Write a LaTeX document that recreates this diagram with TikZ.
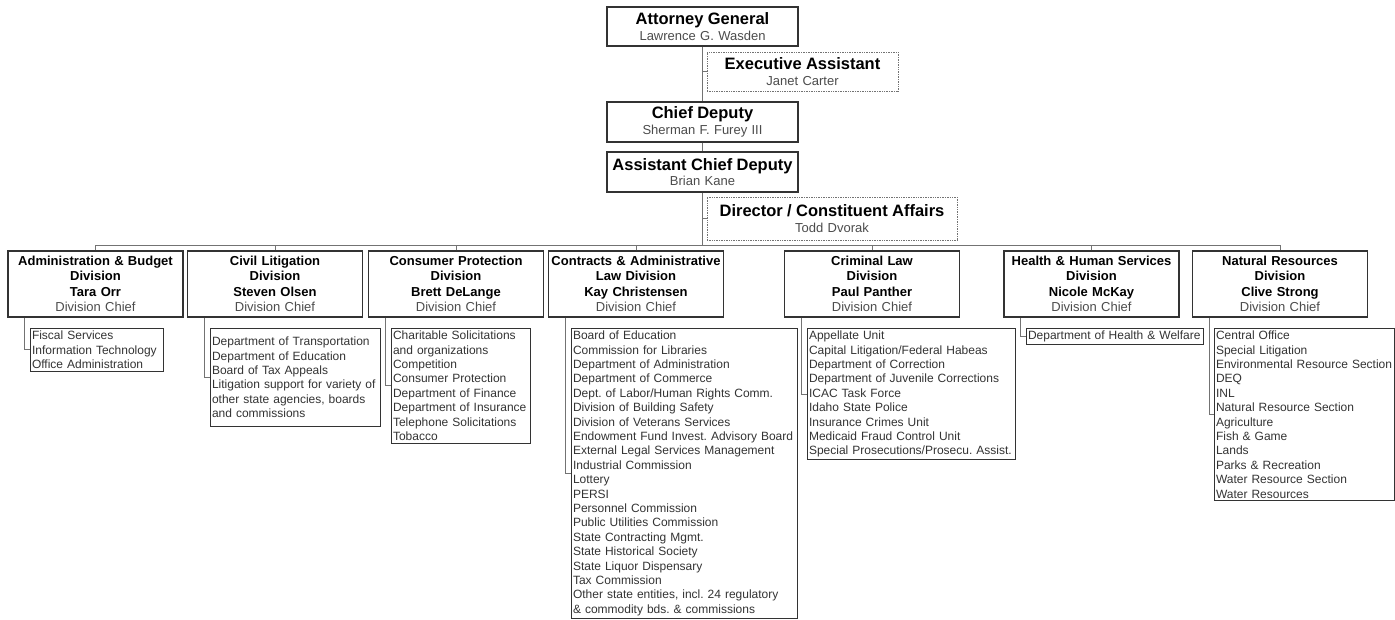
\documentclass[tikz,border=0pt]{standalone}
\usepackage{fontspec}
\setmainfont{Liberation Sans}
\usepackage{xcolor}
\usepackage{tikz}
\usetikzlibrary{calc}
\frenchspacing
\hyphenpenalty=10000
\exhyphenpenalty=10000
\tikzset{
    topbox/.style={rectangle, draw=black!80, line width=1.2pt, fill=white,
                 text width=187pt, align=center, inner xsep=2pt, inner ysep=0pt,
                 minimum height=39pt, font=\fontsize{13}{15.3}\selectfont},
    helpbox/.style={topbox, draw=black!55, line width=0.7pt, densely dotted},
    divbox/.style={rectangle, draw=black!80, line width=1.2pt, fill=white,
                 text width=171pt, align=center, inner xsep=2pt, inner ysep=0pt,
                 minimum height=66pt, font=\fontsize{13}{15.4}\selectfont\bfseries},
    listbox/.style={rectangle, draw=black!80, line width=1pt, anchor=north west,
                 align=left, inner xsep=1.5pt, inner ysep=2.5pt, text=black!80,
                 font=\fontsize{12}{14.4}\selectfont},
    link/.style={draw=black!55, line width=0.8pt}
}
\newcommand{\boxtitle}[1]{{\fontsize{16.5}{15.3}\selectfont\bfseries #1}}
\newcommand{\chieflabel}{{\mdseries\color{black!70}Division Chief}}

\begin{document}
\begin{tikzpicture}[x=1pt, y=-1pt]
\useasboundingbox (0,0) rectangle (1395,619);
% ── Front office ──────────────────────────────────────────────────────
\node[topbox] at (702.5, 26.5) (ag) {\boxtitle{Attorney General}\\{\color{black!70}Lawrence G. Wasden}};
\node[helpbox] at (802.5, 71.5) (ea) {\boxtitle{Executive Assistant}\\{\color{black!70}Janet Carter}};
\node[topbox, minimum height=40pt] at (702.5, 122) (cd) {\boxtitle{Chief Deputy}\\{\color{black!70}Sherman F. Furey III}};
\node[topbox, minimum height=40pt] at (702.5, 172) (acd) {\boxtitle{Assistant Chief Deputy}\\{\color{black!70}Brian Kane}};
\node[helpbox, text width=246pt, minimum height=43pt] at (832, 218.5) (dir) {\boxtitle{Director / Constituent Affairs}\\{\color{black!70}Todd Dvorak}};

\coordinate (bus) at (702.5, 245);

% ── Divisions ─────────────────────────────────────────────────────────
\node[divbox] at (95.5, 284)  (adm) {Administration \& Budget\\Division\\Tara Orr\\\chieflabel};
\node[divbox] at (275, 284)   (civ) {Civil Litigation\\Division\\Steven Olsen\\\chieflabel};
\node[divbox] at (456, 284)   (con) {Consumer Protection\\Division\\Brett DeLange\\\chieflabel};
\node[divbox] at (636, 284)   (cal) {Contracts \& Administrative\\Law Division\\Kay Christensen\\\chieflabel};
\node[divbox] at (872, 284)   (crim) {Criminal Law\\Division\\Paul Panther\\\chieflabel};
\node[divbox] at (1091.5, 284) (hhs) {Health \& Human Services\\Division\\Nicole McKay\\\chieflabel};
\node[divbox] at (1280, 284)  (nat) {Natural Resources\\Division\\Clive Strong\\\chieflabel};

% ── Section lists ─────────────────────────────────────────────────────
\node[listbox, text width=130pt] at (30, 328) (admL)
  {Fiscal Services\\Information Technology\\Office Administration};
\node[listbox, text width=167pt, minimum height=98pt] at (210, 328) (civL)
  {Department of Transportation\\Department of Education\\Board of Tax Appeals\\Litigation support for variety of\\other state agencies, boards\\and commissions};
\node[listbox, text width=136pt] at (391, 328) (conL)
  {Charitable Solicitations\\and organizations\\Competition\\Consumer Protection\\Department of Finance\\Department of Insurance\\Telephone Solicitations\\Tobacco};
\node[listbox, text width=223pt] at (571, 328) (calL)
  {Board of Education\\Commission for Libraries\\Department of Administration\\Department of Commerce\\Dept. of Labor/Human Rights Comm.\\Division of Building Safety\\Division of Veterans Services\\Endowment Fund Invest. Advisory Board\\External Legal Services Management\\Industrial Commission\\Lottery\\PERSI\\Personnel Commission\\Public Utilities Commission\\State Contracting Mgmt.\\State Historical Society\\State Liquor Dispensary\\Tax Commission\\Other state entities, incl. 24 regulatory\\\& commodity bds. \& commissions};
\node[listbox, text width=205pt] at (807, 328) (crimL)
  {Appellate Unit\\Capital Litigation/Federal Habeas\\Department of Correction\\Department of Juvenile Corrections\\ICAC Task Force\\Idaho State Police\\Insurance Crimes Unit\\Medicaid Fraud Control Unit\\Special Prosecutions/Prosecu. Assist.};
\node[listbox, text width=174pt] at (1026, 328) (hhsL)
  {Department of Health \& Welfare};
\node[listbox, text width=177pt] at (1214, 328) (natL)
  {Central Office\\Special Litigation\\Environmental Resource Section\\DEQ\\INL\\Natural Resource Section\\Agriculture\\Fish \& Game\\Lands\\Parks \& Recreation\\Water Resource Section\\Water Resources};

% ── Connectors ────────────────────────────────────────────────────────
\draw[link] (ag) -- (cd);
\draw[link] (cd) -- (acd);
\draw[link] (acd) -- (bus);
\draw[link] (ag.south |- ea.west) -- (ea.west);
\draw[link] (acd.south |- dir.west) -- (dir.west);

\draw[link] (adm.north |- bus) -- (nat.north |- bus);
\foreach \d in {adm, civ, con, cal, crim, hhs, nat}
  \draw[link] (\d.north) -- (\d.north |- bus);

\foreach \d in {adm, civ, con, cal, crim, hhs, nat}
  \draw[link] ([xshift=17pt]\d.south west) |- (\d L.west);
\end{tikzpicture}
\end{document}
